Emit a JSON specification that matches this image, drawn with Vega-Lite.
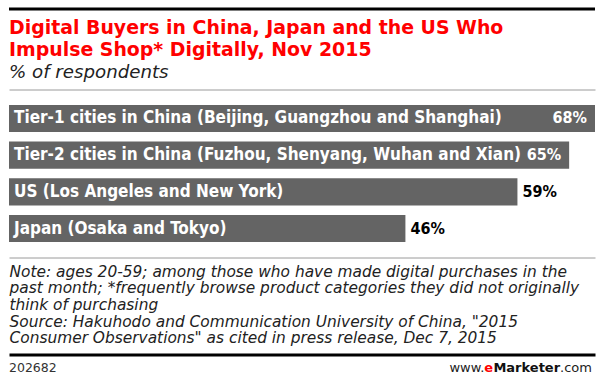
{
  "$schema": "https://vega.github.io/schema/vega-lite/v6.json",
  "background": "white",
  "padding": {"left": 7, "right": 7, "top": 7, "bottom": 0},
  "config": {
    "view": {"stroke": null}
  },
  "datasets": {
    "rows": [
      {"category": "Tier-1 cities in China (Beijing, Guangzhou and Shanghai)", "value": 0.68},
      {"category": "Tier-2 cities in China (Fuzhou, Shenyang, Wuhan and Xian)", "value": 0.65},
      {"category": "US (Los Angeles and New York)", "value": 0.59},
      {"category": "Japan (Osaka and Tokyo)", "value": 0.46}
    ],
    "footer": [
      {"pos": 0, "part": "id", "label": "202682"},
      {"pos": 0.68, "part": "www", "label": "www."},
      {"pos": 0.68, "part": "e", "label": "e"},
      {"pos": 0.68, "part": "brand", "label": "Marketer"},
      {"pos": 0.68, "part": "com", "label": ".com"}
    ],
    "edge": [{"start": 0, "end": 0.68, "level": 0}]
  },
  "bounds": "flush",
  "spacing": 80.5,
  "vconcat": [
    {
      "width": 586,
      "height": 1,
      "data": {"name": "edge"},
      "mark": {"type": "rule", "color": "#000000", "strokeWidth": 3},
      "encoding": {
        "x": {
          "field": "start",
          "type": "quantitative",
          "scale": {"domain": [0, 0.68], "nice": false},
          "axis": null
        },
        "x2": {"field": "end"},
        "y": {
          "field": "level",
          "type": "quantitative",
          "scale": {"domain": [0, 1], "nice": false},
          "axis": null
        }
      }
    },
    {
      "width": 586,
      "height": 168,
      "title": {
        "text": ["Digital Buyers in China, Japan and the US Who", "Impulse Shop* Digitally, Nov 2015"],
        "subtitle": "% of respondents",
        "anchor": "start",
        "frame": "group",
        "font": "DejaVu Sans",
        "fontSize": 18.9,
        "fontWeight": "bold",
        "color": "#ff0000",
        "lineHeight": 22,
        "subtitleFont": "DejaVu Sans",
        "subtitleFontStyle": "italic",
        "subtitleFontWeight": "normal",
        "subtitleFontSize": 18.2,
        "subtitleColor": "#222222",
        "subtitlePadding": 4,
        "offset": 8
      },
      "data": {"name": "rows"},
      "encoding": {
        "y": {
          "field": "category",
          "type": "nominal",
          "sort": null,
          "axis": null,
          "scale": {"paddingInner": 0.26, "paddingOuter": 0.42}
        }
      },
      "layer": [
        {
          "mark": {"type": "bar", "color": "#646464"},
          "encoding": {
            "x": {
              "field": "value",
              "type": "quantitative",
              "scale": {"domain": [0, 0.68], "nice": false},
              "axis": {
                "orient": "top",
                "domain": true,
                "domainColor": "#9a9a9a",
                "domainWidth": 1,
                "ticks": false,
                "labels": false,
                "grid": false,
                "title": null
              }
            }
          }
        },
        {
          "mark": {"type": "text", "align": "left", "baseline": "middle", "dx": 5, "color": "#ffffff", "font": "DejaVu Sans Condensed", "fontWeight": "bold", "fontSize": 17},
          "encoding": {
            "x": {"datum": 0, "type": "quantitative", "axis": null},
            "text": {"field": "category"}
          }
        },
        {
          "transform": [{"filter": "datum.value > 0.62"}],
          "mark": {"type": "text", "align": "right", "baseline": "middle", "dx": -8, "color": "#ffffff", "font": "DejaVu Sans Condensed", "fontWeight": "bold", "fontSize": 16},
          "encoding": {
            "x": {"field": "value", "type": "quantitative", "axis": null},
            "text": {"field": "value", "format": ".0%"}
          }
        },
        {
          "transform": [{"filter": "datum.value <= 0.62"}],
          "mark": {"type": "text", "align": "left", "baseline": "middle", "dx": 5, "color": "#000000", "font": "DejaVu Sans Condensed", "fontWeight": "bold", "fontSize": 16},
          "encoding": {
            "x": {
              "field": "value",
              "type": "quantitative",
              "axis": {
                "orient": "bottom",
                "domain": true,
                "domainColor": "#9a9a9a",
                "domainWidth": 1,
                "ticks": false,
                "labels": false,
                "grid": false,
                "title": [
                  "Note: ages 20-59; among those who have made digital purchases in the",
                  "past month; *frequently browse product categories they did not originally",
                  "think of purchasing",
                  "Source: Hakuhodo and Communication University of China, \"2015",
                  "Consumer Observations\" as cited in press release, Dec 7, 2015"
                ],
                "titleAnchor": "start",
                "titleAlign": "left",
                "titleFont": "DejaVu Sans",
                "titleFontStyle": "italic",
                "titleFontWeight": "normal",
                "titleFontSize": 15.4,
                "titleColor": "#222222",
                "titleLineHeight": 16.7,
                "titlePadding": 6.5
              }
            },
            "text": {"field": "value", "format": ".0%"}
          }
        }
      ],
      "resolve": {"axis": {"x": "independent"}}
    },
    {
      "width": 586,
      "height": 16.5,
      "data": {"name": "footer"},
      "encoding": {
        "x": {
          "field": "pos",
          "type": "quantitative",
          "scale": {"domain": [0, 0.68], "nice": false},
          "axis": {
            "orient": "bottom",
            "domain": true,
            "domainColor": "#000000",
            "domainWidth": 3,
            "ticks": false,
            "labels": false,
            "grid": false,
            "title": null
          }
        },
        "text": {"field": "label"}
      },
      "layer": [
        {
          "transform": [{"filter": "datum.part == 'id'"}],
          "mark": {"type": "text", "align": "left", "baseline": "middle", "dy": 21.5, "font": "DejaVu Sans", "fontSize": 12.5, "color": "#333333"}
        },
        {
          "transform": [{"filter": "datum.part == 'com'"}],
          "mark": {"type": "text", "align": "right", "baseline": "middle", "dy": 21.5, "dx": -3, "font": "DejaVu Sans", "fontSize": 13, "color": "#222222"}
        },
        {
          "transform": [{"filter": "datum.part == 'brand'"}],
          "mark": {"type": "text", "align": "right", "baseline": "middle", "dy": 21.5, "dx": -34.9, "font": "DejaVu Sans", "fontWeight": "bold", "fontSize": 13, "color": "#111111"}
        },
        {
          "transform": [{"filter": "datum.part == 'e'"}],
          "mark": {"type": "text", "align": "right", "baseline": "middle", "dy": 21.5, "dx": -101.9, "font": "DejaVu Sans", "fontWeight": "bold", "fontSize": 13, "color": "#ff0000"}
        },
        {
          "transform": [{"filter": "datum.part == 'www'"}],
          "mark": {"type": "text", "align": "right", "baseline": "middle", "dy": 21.5, "dx": -110.7, "font": "DejaVu Sans", "fontSize": 13, "color": "#222222"}
        }
      ]
    }
  ]
}
